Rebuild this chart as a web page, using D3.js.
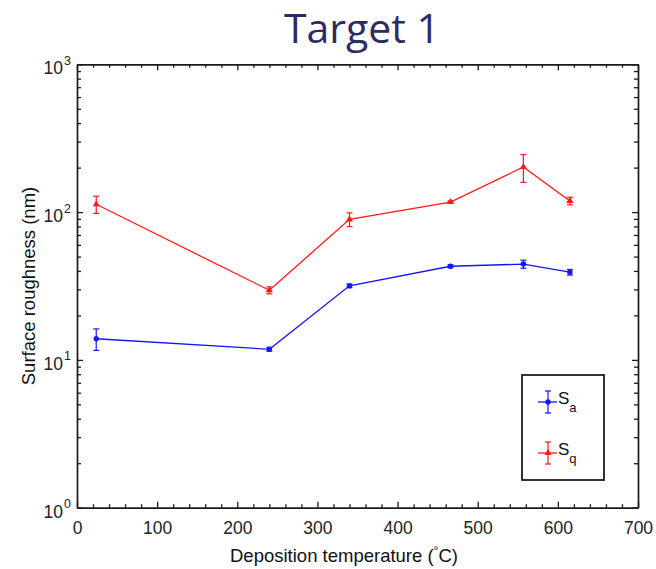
<!DOCTYPE html>
<html>
<head>
<meta charset="utf-8">
<script src="https://cdn.jsdelivr.net/npm/d3@7"></script>
<style>
  html, body { margin: 0; padding: 0; background: #fff; }
  svg { display: block; }
</style>
</head>
<body>
<svg id="chart" width="656" height="569"></svg>
<script>
// ---- data ----
const temps = [24, 240, 340, 466, 557, 615];
const saValues = [13.9, 11.8, 31.7, 43, 44.5, 39.2];
const saErrors = [2.3, 0.35, 0.9, 1.0, 2.8, 1.7];
const sqValues = [113, 29.6, 89.3, 117, 202, 119];
const sqErrors = [15, 1.6, 9.5, 2.2, 43, 7];
const xTicks = [0, 100, 200, 300, 400, 500, 600, 700];
const yTickExponents = [0, 1, 2, 3];
const seriesNames = ["a", "q"];
const titleText = "Target 1";
const xLabel = "Deposition temperature (";
const yLabel = "Surface roughness (nm)";

(function () {
// ---- layout ----
const svg = d3.select("#chart");
const pLeft = 77, pRight = 638, pTop = 64.3, pBottom = 507.7;
const x = d3.scaleLinear().domain([0, 700]).range([pLeft, pRight]);
const y = d3.scaleLog().domain([1, 1000]).range([pBottom, pTop]);
const axisColor = "#1a1a1a";
const font = "'Liberation Sans', Arial, Helvetica, sans-serif";

// title
svg.append("text")
  .attr("x", 362).attr("y", 43)
  .attr("text-anchor", "middle")
  .attr("font-family", "'Open Sans', 'Noto Sans', sans-serif")
  .attr("font-size", 41)
  .attr("fill", "#2c2b64")
  .text(titleText);

// minor ticks
const xMinor = d3.range(0, 701, 20).filter(v => v % 100 !== 0);
const yMinor = [];
[1, 10, 100].forEach(d => { for (let k = 2; k <= 9; k++) yMinor.push(d * k); });

function styleAxis(g) {
  g.selectAll("path").attr("stroke", axisColor).attr("stroke-width", 1.7);
  g.selectAll("line").attr("stroke", axisColor).attr("stroke-width", 1.3);
}

// bottom axis major
const gxB = svg.append("g").attr("transform", `translate(0,${pBottom})`)
  .call(d3.axisBottom(x).tickValues(xTicks).tickSizeInner(-6).tickSizeOuter(0).tickPadding(14).tickFormat(d3.format("d")));
styleAxis(gxB);
gxB.selectAll("text").attr("font-family", font).attr("font-size", 17.5).attr("fill", "#222");
// bottom minor
const gxBm = svg.append("g").attr("transform", `translate(0,${pBottom})`)
  .call(d3.axisBottom(x).tickValues(xMinor).tickSizeInner(-3.5).tickSizeOuter(0).tickFormat(""));
styleAxis(gxBm); gxBm.select("path").remove();
// top axis
const gxT = svg.append("g").attr("transform", `translate(0,${pTop})`)
  .call(d3.axisTop(x).tickValues(xTicks).tickSizeInner(-6).tickSizeOuter(0).tickFormat(""));
styleAxis(gxT);
const gxTm = svg.append("g").attr("transform", `translate(0,${pTop})`)
  .call(d3.axisTop(x).tickValues(xMinor).tickSizeInner(-3.5).tickSizeOuter(0).tickFormat(""));
styleAxis(gxTm); gxTm.select("path").remove();

// left axis
const yMajor = yTickExponents.map(e => Math.pow(10, e));
const gyL = svg.append("g").attr("transform", `translate(${pLeft},0)`)
  .call(d3.axisLeft(y).tickValues(yMajor).tickSizeInner(-6).tickSizeOuter(0).tickFormat(""));
styleAxis(gyL);
const gyLm = svg.append("g").attr("transform", `translate(${pLeft},0)`)
  .call(d3.axisLeft(y).tickValues(yMinor).tickSizeInner(-4).tickSizeOuter(0).tickFormat(""));
styleAxis(gyLm); gyLm.select("path").remove();
// right axis
const gyR = svg.append("g").attr("transform", `translate(${pRight},0)`)
  .call(d3.axisRight(y).tickValues(yMajor).tickSizeInner(-6).tickSizeOuter(0).tickFormat(""));
styleAxis(gyR);
const gyRm = svg.append("g").attr("transform", `translate(${pRight},0)`)
  .call(d3.axisRight(y).tickValues(yMinor).tickSizeInner(-4).tickSizeOuter(0).tickFormat(""));
styleAxis(gyRm); gyRm.select("path").remove();

// y tick labels with superscripts
yTickExponents.forEach(e => {
  const yy = y(Math.pow(10, e));
  svg.append("text").attr("font-family", font).attr("fill", "#222")
    .attr("x", 63).attr("y", yy + 10).attr("text-anchor", "end")
    .attr("font-size", 17.5).text("10");
  svg.append("text").attr("font-family", font).attr("fill", "#222")
    .attr("x", 64).attr("y", yy + 0.5).attr("font-size", 12.5).text(String(e));
});

// axis labels
const xl = svg.append("text")
  .attr("x", 230).attr("y", 562)
  .attr("font-family", font).attr("font-size", 18.5).attr("fill", "#111");
xl.append("tspan").text(xLabel);
xl.append("tspan").attr("dy", -7).attr("font-size", 12).text("°");
xl.append("tspan").attr("dy", 7).text("C)");

svg.append("text")
  .attr("transform", `translate(35,286) rotate(-90)`)
  .attr("text-anchor", "middle")
  .attr("font-family", font).attr("font-size", 18.5).attr("fill", "#111")
  .text(yLabel);

// series
const series = [
  { vals: saValues, errs: saErrors, color: "#1515ff", marker: "circle" },
  { vals: sqValues, errs: sqErrors, color: "#ff1a1a", marker: "triangle" }
];
const line = d3.line().x(d => x(d[0])).y(d => y(d[1]));
const plotG = svg.append("g");

function drawMarker(g, cx, cy, s) {
  if (s.marker === "circle") {
    g.append("circle").attr("cx", cx).attr("cy", cy).attr("r", 2.7).attr("fill", s.color);
  } else {
    g.append("path").attr("d", d3.symbol(d3.symbolTriangle, 22)())
      .attr("transform", `translate(${cx},${cy})`).attr("fill", s.color);
  }
}
function drawErr(g, cx, y1, y2, color) {
  g.append("line").attr("x1", cx).attr("x2", cx).attr("y1", y1).attr("y2", y2)
    .attr("stroke", color).attr("stroke-width", 1.2);
  [y1, y2].forEach(yy => g.append("line").attr("x1", cx - 3).attr("x2", cx + 3)
    .attr("y1", yy).attr("y2", yy).attr("stroke", color).attr("stroke-width", 1.2));
}

series.forEach(s => {
  const pts = temps.map((t, i) => [t, s.vals[i]]);
  plotG.append("path").datum(pts).attr("d", line)
    .attr("fill", "none").attr("stroke", s.color).attr("stroke-width", 1.3);
  pts.forEach((p, i) => {
    const cx = x(p[0]);
    drawErr(plotG, cx, y(p[1] + s.errs[i]), y(p[1] - s.errs[i]), s.color);
    drawMarker(plotG, cx, y(p[1]), s);
  });
});

// legend
const lg = svg.append("g");
lg.append("rect").attr("x", 522).attr("y", 375).attr("width", 82).attr("height", 105)
  .attr("fill", "#fff").attr("stroke", "#111").attr("stroke-width", 1.7);
series.forEach((s, i) => {
  const cy = i === 0 ? 402 : 453;
  lg.append("line").attr("x1", 538).attr("x2", 557).attr("y1", cy).attr("y2", cy)
    .attr("stroke", s.color).attr("stroke-width", 1.3);
  drawErr(lg, 548, cy - 11, cy + 11, s.color);
  drawMarker(lg, 548, cy, s);
  const t = lg.append("text").attr("x", 558).attr("y", cy + 1.5)
    .attr("font-family", font).attr("font-size", 17).attr("fill", "#111");
  t.append("tspan").text("S");
  t.append("tspan").attr("dy", 8).attr("font-size", 13).text(seriesNames[i]);
});
})();
</script>
</body>
</html>
